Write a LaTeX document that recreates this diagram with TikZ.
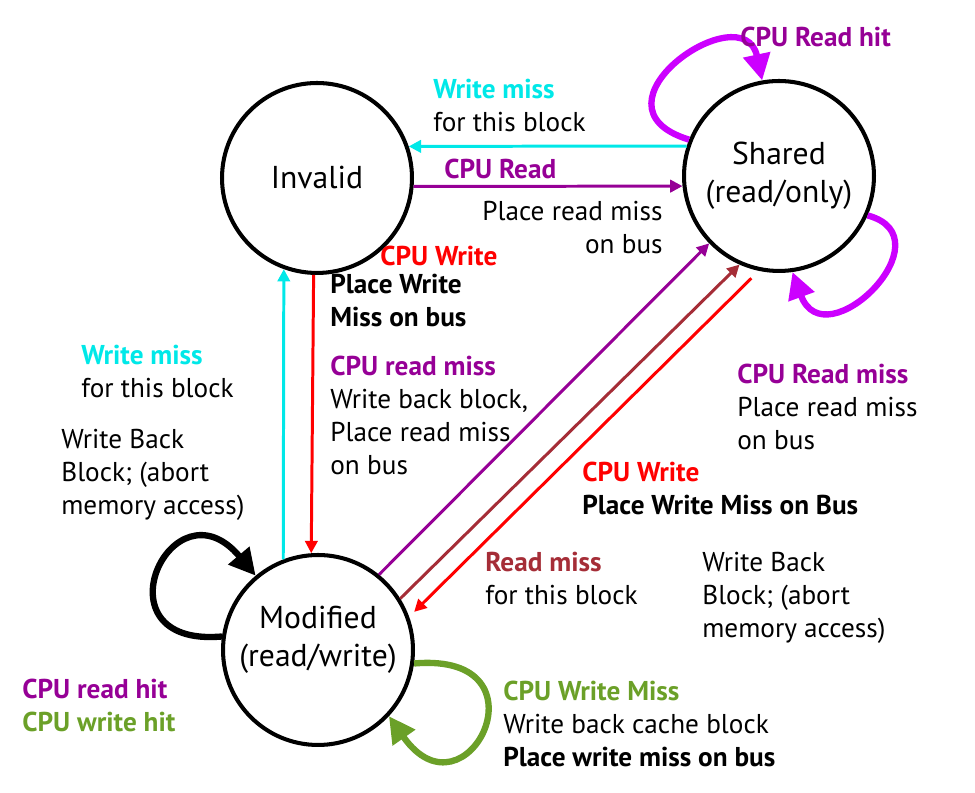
\documentclass[tikz,border=0pt]{standalone}
\usepackage{fontspec}
\setmainfont{PT Sans}
\usetikzlibrary{arrows.meta}
\definecolor{wmcyan}{RGB}{0,232,232}
\definecolor{cpupurple}{RGB}{150,0,150}
\definecolor{hitmagenta}{RGB}{204,0,255}
\definecolor{rmbrown}{RGB}{165,45,55}
\definecolor{wmgreen}{RGB}{107,160,40}
\begin{document}
\begin{tikzpicture}[x=0.02cm,y=0.02cm,
    state/.style={draw,circle,line width=2.3pt,minimum size=3.8cm,inner sep=0pt,
      align=center,font=\fontsize{18}{21.5}\selectfont},
    lbl/.style={inner sep=0pt,anchor=north west,align=left,font=\fontsize{15.5}{18.8}\selectfont},
    edgearrow/.style={line width=1.7pt,-{Triangle[length=7pt,width=7pt]}},
    selfloop/.style={line width=3.6pt,-{Triangle[length=15pt,width=15pt]}}]
    \useasboundingbox (0,0) rectangle (975,793);
    % states
    \node[state] (inv) at (317,615) {Invalid};
    \node[state] (sh) at (779,617) {Shared\\(read/only)};
    \node[state,text depth=16pt] (mod) at (318,143) {Modified\\(read/write)};
    % transitions
    \draw[edgearrow,wmcyan] (sh.162) -- (inv.19);
    \draw[edgearrow,cpupurple] (inv.-5) -- (sh.186);
    \draw[edgearrow,red] (inv.-92) -- (mod.94);
    \draw[edgearrow,wmcyan] (mod.111) -- (inv.-110);
    \draw[edgearrow,cpupurple] (mod.51) -- (sh.224);
    \draw[edgearrow,rmbrown] (mod.32) -- (sh.246);
    \draw[edgearrow,red,shorten <=6pt,shorten >=4pt] (sh.258) -- (mod.20);
    % self loops
    \draw[selfloop,hitmagenta] (sh.158) .. controls +(163:115) and +(102:90) .. (sh.100);
    \draw[selfloop,hitmagenta] (sh.-24) .. controls +(-15:85) and +(-70:95) .. (sh.-82);
    \draw[selfloop,black] (mod.172) .. controls +(185:130) and +(130:130) .. (mod.130);
    \draw[selfloop,wmgreen] (mod.-8) .. controls +(5:140) and +(-55:135) .. (mod.-43);
    % labels
    \node[lbl] (wmtop) at (433,714) {\textbf{\color{wmcyan}Write miss}\\for this block};
    \node[lbl] (rdtop) at (444,634) {\textbf{\color{cpupurple}CPU Read}};
    \node[lbl,anchor=north east,align=right] (prtop) at (663,592) {Place read miss\\on bus};
    \node[lbl] (cwinv) at (380,547) {\textbf{\color{red}CPU Write}};
    \node[lbl] (pwinv) at (330,519) {\textbf{Place Write}\\\textbf{Miss on bus}};
    \node[lbl] (rmmod) at (330,437) {\textbf{\color{cpupurple}CPU read miss}\\Write back block,\\Place read miss\\on bus};
    \node[lbl] (wmleft) at (81,448) {\textbf{\color{wmcyan}Write miss}\\for this block};
    \node[lbl] (wbleft) at (61,364) {Write Back\\Block; (abort\\memory access)};
    \node[lbl] (hitmod) at (22,114) {\textbf{\color{cpupurple}CPU read hit}\\\textbf{\color{wmgreen}CPU write hit}};
    \node[lbl] (hitsh) at (740,766) {\textbf{\color{cpupurple}CPU Read hit}};
    \node[lbl] (rmsh) at (737,429) {\textbf{\color{cpupurple}CPU Read miss}\\Place read miss\\on bus};
    \node[lbl] (cwsh) at (582,331) {\textbf{\color{red}CPU Write}\\\textbf{Place Write Miss on Bus}};
    \node[lbl] (rmbus) at (485,241) {\textbf{\color{rmbrown}Read miss}\\for this block};
    \node[lbl] (wbright) at (702,241) {Write Back\\Block; (abort\\memory access)};
    \node[lbl] (wmmod) at (503,112) {\textbf{\color{wmgreen}CPU Write Miss}\\Write back cache block\\\textbf{Place write miss on bus}};
\end{tikzpicture}
\end{document}
